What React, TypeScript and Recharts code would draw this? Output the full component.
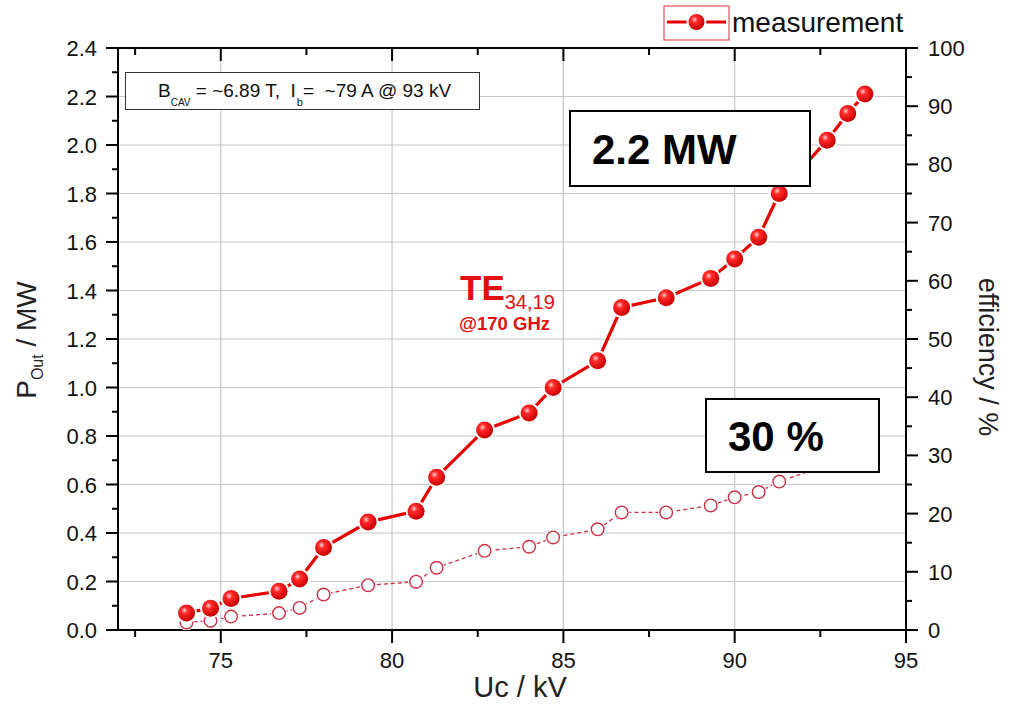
import React from 'react';
import { ComposedChart, Line, XAxis, YAxis, CartesianGrid, Legend, Label } from 'recharts';

// ---- data ----
const voltageKV = [74.0, 74.7, 75.3, 76.7, 77.3, 78.0, 79.3, 80.7, 81.3, 82.7, 84.0, 84.7, 86.0, 86.7, 88.0, 89.3, 90.0, 90.7, 91.3, 92.7, 93.3, 93.8];
const powerMW = [0.07, 0.09, 0.13, 0.16, 0.21, 0.34, 0.445, 0.49, 0.63, 0.825, 0.895, 1.0, 1.11, 1.33, 1.37, 1.45, 1.53, 1.62, 1.8, 2.02, 2.13, 2.21];
const efficiencyPct = [1.3, 1.6, 2.3, 2.9, 3.8, 6.1, 7.7, 8.3, 10.7, 13.6, 14.3, 15.9, 17.3, 20.2, 20.2, 21.4, 22.8, 23.7, 25.5, 28.3, 29.2, 30.0];

const xTicks = [72.5, 75, 77.5, 80, 82.5, 85, 87.5, 90, 92.5, 95];
const xGridTicks = [75, 80, 85, 90];
const leftTicks = [0, 0.1, 0.2, 0.3, 0.4, 0.5, 0.6, 0.7, 0.8, 0.9, 1.0, 1.1, 1.2, 1.3, 1.4, 1.5, 1.6, 1.7, 1.8, 1.9, 2.0, 2.1, 2.2, 2.3, 2.4];
const leftGridTicks = [0.2, 0.4, 0.6, 0.8, 1.0, 1.2, 1.4, 1.6, 1.8, 2.0, 2.2];
const rightTicks = [0, 5, 10, 15, 20, 25, 30, 35, 40, 45, 50, 55, 60, 65, 70, 75, 80, 85, 90, 95, 100];

const chartData = voltageKV.map((kv, i) => ({ kv, power: powerMW[i], eff: efficiencyPct[i] }));

const FONT = '"Liberation Sans", Arial, Helvetica, sans-serif';
const RED = '#e60000';
const OPEN_RED = '#cc2f45';

const isMajorX = (v: number) => Math.abs(v % 5) < 1e-6;
const isMajorLeft = (v: number) => Math.round(v * 10) % 2 === 0;
const isMajorRight = (v: number) => v % 10 === 0;

function BottomTick(props: any) {
  const { x, y, payload } = props;
  const v = payload.value;
  const major = isMajorX(v);
  return (
    <g>
      <line x1={x} x2={x} y1={y} y2={y + (major ? 13 : 7)} stroke="#000" strokeWidth={2} />
      {major && (
        <text x={x} y={y + 38} textAnchor="middle" fontSize={22} fontFamily={FONT} fill="#111">
          {v}
        </text>
      )}
    </g>
  );
}

function TopTick(props: any) {
  const { x, y, payload } = props;
  const major = isMajorX(payload.value);
  return <line x1={x} x2={x} y1={y} y2={y + (major ? 13 : 7)} stroke="#000" strokeWidth={2} />;
}

function LeftTick(props: any) {
  const { x, y, payload } = props;
  const v = payload.value;
  const major = isMajorLeft(v);
  return (
    <g>
      <line x1={x - (major ? 12 : 6)} x2={x} y1={y} y2={y} stroke="#000" strokeWidth={2} />
      {major && (
        <text x={x - 21} y={y + 8} textAnchor="end" fontSize={22} fontFamily={FONT} fill="#111">
          {v.toFixed(1)}
        </text>
      )}
    </g>
  );
}

function RightTick(props: any) {
  const { x, y, payload } = props;
  const v = payload.value;
  const major = isMajorRight(v);
  return (
    <g>
      <line x1={x} x2={x + (major ? 12 : 6)} y1={y} y2={y} stroke="#000" strokeWidth={2} />
      {major && (
        <text x={x + 22} y={y + 8} textAnchor="start" fontSize={22} fontFamily={FONT} fill="#111">
          {v}
        </text>
      )}
    </g>
  );
}

function FilledDot(props: any) {
  const { cx, cy, index } = props;
  if (cx == null || cy == null) return null;
  return (
    <g key={`f-${index}`}>
      <circle cx={cx} cy={cy} r={10.5} fill="#fff" />
      <circle cx={cx} cy={cy} r={8.5} fill="url(#ballGrad)" />
    </g>
  );
}

function OpenDot(props: any) {
  const { cx, cy, index } = props;
  if (cx == null || cy == null) return null;
  return (
    <g key={`o-${index}`}>
      <circle cx={cx} cy={cy} r={8} fill="#fff" />
      <circle cx={cx} cy={cy} r={6.3} fill="#fff" stroke={OPEN_RED} strokeWidth={1.4} />
    </g>
  );
}

function LegendContent() {
  return (
    <div style={{ display: 'flex', alignItems: 'center', whiteSpace: 'nowrap' }}>
      <svg width={68} height={36} style={{ display: 'block' }}>
        <defs>
          <radialGradient id="ballGradLegend" cx="38%" cy="35%" r="65%">
            <stop offset="0%" stopColor="#ffd0d0" />
            <stop offset="30%" stopColor="#ff2a2a" />
            <stop offset="100%" stopColor="#c80000" />
          </radialGradient>
        </defs>
        <rect x={1} y={1} width={65} height={34} fill="#fff" stroke="#e03030" strokeWidth={1} />
        <line x1={4} x2={63} y1={17} y2={17} stroke={RED} strokeWidth={3} />
        <circle cx={33.5} cy={17} r={10} fill="#fff" />
        <circle cx={33.5} cy={17} r={8} fill="url(#ballGradLegend)" />
      </svg>
      <span style={{ fontFamily: FONT, fontSize: 28, color: '#111', marginLeft: 1, lineHeight: '36px' }}>measurement</span>
    </div>
  );
}

const scaleOf = (axis: any): ((v: number) => number) | null => {
  const s = axis && axis.scale;
  if (typeof s === 'function') return s;
  if (s && typeof s.map === 'function') return (v: number) => s.map(v);
  return null;
};

const horizontalGen = (p: any) => {
  const s = scaleOf(p.yAxis);
  return s ? leftGridTicks.map((v) => s(v)) : [];
};
const verticalGen = (p: any) => {
  const s = scaleOf(p.xAxis);
  return s ? xGridTicks.map((v) => s(v)) : [];
};

export default function App() {
  return (
    <div style={{ position: 'absolute', left: 0, top: 0, width: 1012, height: 720, background: '#fff', fontFamily: FONT }}>
      <ComposedChart width={1012} height={720} data={chartData} margin={{ top: 47, right: 0, bottom: 0, left: 0 }}>
        <defs>
          <radialGradient id="ballGrad" cx="38%" cy="35%" r="65%">
            <stop offset="0%" stopColor="#ffd0d0" />
            <stop offset="30%" stopColor="#ff2a2a" />
            <stop offset="100%" stopColor="#c80000" />
          </radialGradient>
        </defs>

        <CartesianGrid
          xAxisId="x"
          yAxisId="left"
          stroke="#c8c8c8"
          strokeWidth={1.2}
          horizontalCoordinatesGenerator={horizontalGen}
          verticalCoordinatesGenerator={verticalGen}
        />

        <XAxis
          xAxisId="x"
          dataKey="kv"
          type="number"
          domain={[72, 95]}
          ticks={xTicks}
          interval={0}
          height={90}
          tickSize={0}
          tickMargin={0}
          tickLine={false}
          axisLine={{ stroke: '#000', strokeWidth: 2 }}
          tick={<BottomTick />}
          allowDataOverflow
        >
          <Label
            content={() => (
              <text x={520} y={697} textAnchor="middle" fontSize={29} fontFamily={FONT} fill="#222">
                Uc / kV
              </text>
            )}
          />
        </XAxis>
        <XAxis
          xAxisId="top"
          orientation="top"
          dataKey="kv"
          type="number"
          domain={[72, 95]}
          ticks={xTicks}
          interval={0}
          height={1}
          tickSize={0}
          tickMargin={0}
          tickLine={false}
          axisLine={{ stroke: '#000', strokeWidth: 2 }}
          tick={<TopTick />}
          allowDataOverflow
        />
        <YAxis
          yAxisId="left"
          orientation="left"
          type="number"
          domain={[0, 2.4]}
          ticks={leftTicks}
          interval={0}
          width={118}
          tickSize={0}
          tickMargin={0}
          tickLine={false}
          axisLine={{ stroke: '#000', strokeWidth: 2 }}
          tick={<LeftTick />}
          allowDataOverflow
        >
          <Label
            content={() => (
              <text transform="translate(36,340) rotate(-90)" textAnchor="middle" fontSize={28} fontFamily={FONT} fill="#222">
                P
                <tspan fontSize={16} dy={7}>Out</tspan>
                <tspan dy={-7}> / MW</tspan>
              </text>
            )}
          />
        </YAxis>
        <YAxis
          yAxisId="right"
          orientation="right"
          type="number"
          domain={[0, 100]}
          ticks={rightTicks}
          interval={0}
          width={106}
          tickSize={0}
          tickMargin={0}
          tickLine={false}
          axisLine={{ stroke: '#000', strokeWidth: 2 }}
          tick={<RightTick />}
          allowDataOverflow
        >
          <Label
            content={() => (
              <text transform="translate(979,357) rotate(90)" textAnchor="middle" fontSize={27} fontFamily={FONT} fill="#222">
                efficiency / %
              </text>
            )}
          />
        </YAxis>

        <Line
          xAxisId="x"
          yAxisId="right"
          dataKey="eff"
          type="linear"
          stroke={OPEN_RED}
          strokeWidth={1.3}
          strokeDasharray="4 3"
          dot={<OpenDot />}
          activeDot={false}
          legendType="none"
          isAnimationActive={false}
        />
        <Line
          xAxisId="x"
          yAxisId="left"
          dataKey="power"
          name="measurement"
          type="linear"
          stroke={RED}
          strokeWidth={3.2}
          dot={<FilledDot />}
          activeDot={false}
          isAnimationActive={false}
        />

        <Legend
          layout="vertical"
          align="center"
          verticalAlign="middle"
          wrapperStyle={{ position: 'absolute', top: 5, left: 663, width: 290, height: 38 }}
          content={() => <LegendContent />}
        />
      </ComposedChart>

      {/* annotation boxes */}
      <div
        style={{
          position: 'absolute', left: 125, top: 72, width: 355, height: 38,
          border: '1.5px solid #333', background: '#fff', boxSizing: 'border-box',
          fontFamily: FONT, fontSize: 19, color: '#111', whiteSpace: 'nowrap',
        }}
      >
        <div style={{ position: 'absolute', left: 32, top: 7 }}>
          B<span style={{ fontSize: 10, position: 'relative', top: 9 }}>CAV</span> = ~6.89 T,&nbsp;&nbsp;I
          <span style={{ fontSize: 11, position: 'relative', top: 9, marginLeft: 1 }}>b</span>=&nbsp;&nbsp;~79 A @ 93 kV
        </div>
      </div>

      <div
        style={{
          position: 'absolute', left: 569, top: 110, width: 242, height: 77,
          border: '2px solid #000', background: '#fff', boxSizing: 'border-box',
        }}
      >
        <div style={{ position: 'absolute', left: 21, top: 14, fontFamily: FONT, fontWeight: 'bold', fontSize: 42, color: '#000', whiteSpace: 'nowrap' }}>
          2.2 MW
        </div>
      </div>

      <div
        style={{
          position: 'absolute', left: 705, top: 398, width: 175, height: 75,
          border: '2px solid #000', background: '#fff', boxSizing: 'border-box',
        }}
      >
        <div style={{ position: 'absolute', left: 21, top: 13, fontFamily: FONT, fontWeight: 'bold', fontSize: 42, color: '#000', whiteSpace: 'nowrap' }}>
          30 %
        </div>
      </div>

      <div style={{ position: 'absolute', left: 460, top: 268, fontFamily: FONT, color: '#e01010', whiteSpace: 'nowrap' }}>
        <span style={{ fontSize: 35, fontWeight: 'bold' }}>TE</span>
        <span style={{ fontSize: 20, position: 'relative', top: 9 }}>34,19</span>
      </div>
      <div style={{ position: 'absolute', left: 459, top: 313, fontFamily: FONT, color: '#e01010', fontSize: 18.5, fontWeight: 'bold', whiteSpace: 'nowrap' }}>
        @170 GHz
      </div>
    </div>
  );
}
